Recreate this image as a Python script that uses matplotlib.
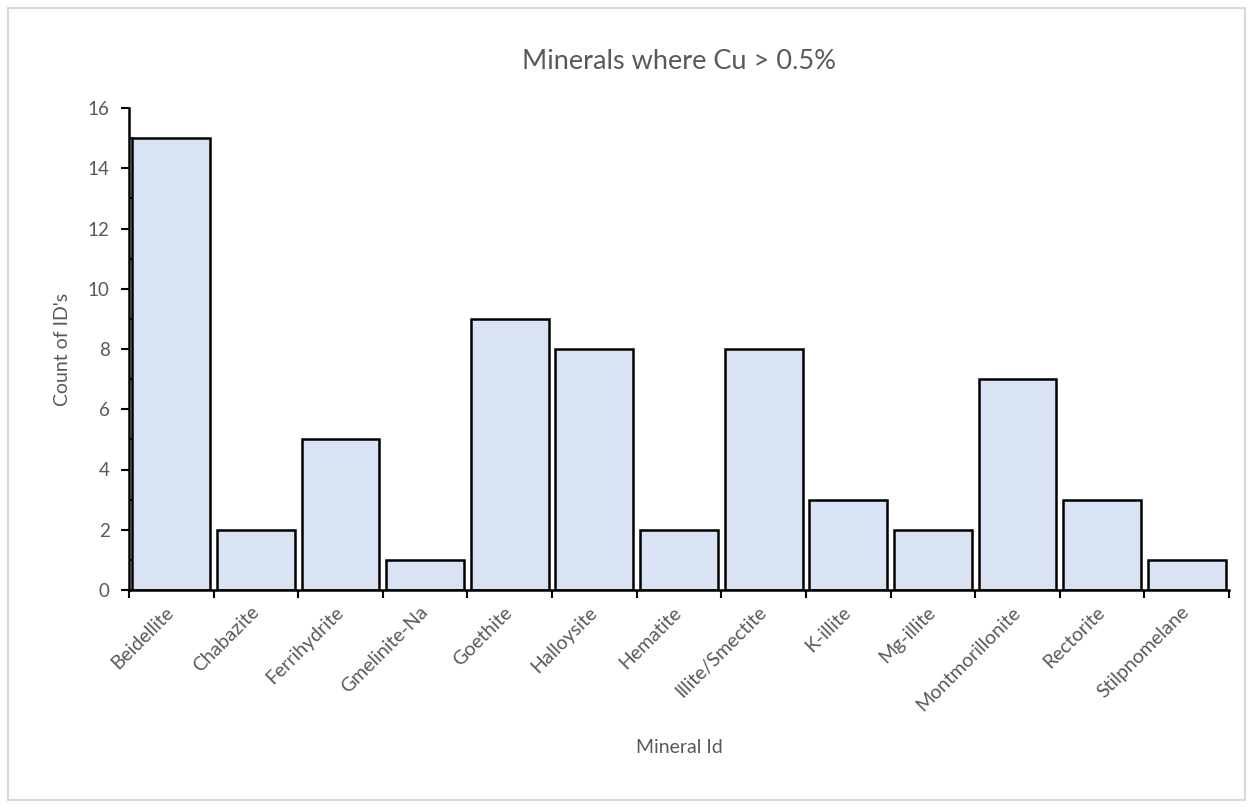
import matplotlib
matplotlib.use('Agg')
import matplotlib.pyplot as plt
from matplotlib.patches import Rectangle
from matplotlib.ticker import MultipleLocator

minerals = ['Beidellite', 'Chabazite', 'Ferrihydrite', 'Gmelinite-Na', 'Goethite',
            'Halloysite', 'Hematite', 'Illite/Smectite', 'K-illite', 'Mg-illite',
            'Montmorillonite', 'Rectorite', 'Stilpnomelane']
counts = [15, 2, 5, 1, 9, 8, 2, 8, 3, 2, 7, 3, 1]

plt.rcParams['font.family'] = ['Lato', 'DejaVu Sans']
grey = '#595959'

fig = plt.figure(figsize=(12.53, 8.08), dpi=100)
fig.patches.append(Rectangle((8 / 1253, 8 / 808), 1 - 16 / 1253, 1 - 16 / 808,
                             transform=fig.transFigure, fill=False,
                             edgecolor='#d9d9d9', linewidth=1.5))

ax = fig.add_axes([129 / 1253, 1 - 590 / 808, 1100 / 1253, 482 / 808])
x = list(range(len(minerals)))
ax.bar(x, counts, width=0.92, color='#dae3f3', edgecolor='black', linewidth=1.8)

ax.set_xlim(-0.5, len(minerals) - 0.5)
ax.set_ylim(0, 16)
ax.yaxis.set_major_locator(MultipleLocator(2))
ax.yaxis.set_minor_locator(MultipleLocator(1))

# ticks at category boundaries
ax.set_xticks([i - 0.5 for i in range(len(minerals) + 1)])
ax.set_xticklabels([])
ax.tick_params(axis='x', which='major', direction='out', length=6, width=1.5)
ax.set_xticks(x, minor=True)
ax.set_xticklabels(minerals, minor=True, rotation=45, ha='right', va='center',
                   rotation_mode='anchor', fontsize=14, color=grey)
ax.tick_params(axis='x', which='minor', length=0, pad=14)

ax.tick_params(axis='y', which='major', direction='out', length=6, width=1.5,
               labelsize=13.5, labelcolor=grey, pad=8)
ax.tick_params(axis='y', which='minor', direction='in', length=3, width=1.5)

for s in ['top', 'right']:
    ax.spines[s].set_visible(False)
for s in ['left', 'bottom']:
    ax.spines[s].set_linewidth(1.8)

ax.set_title('Minerals where Cu > 0.5%', fontsize=19.5, color=grey, pad=28)
ax.set_ylabel("Count of ID's", fontsize=14, color=grey, labelpad=12)
ax.set_xlabel('Mineral Id', fontsize=14, color=grey, labelpad=18)

fig.savefig('out.png', dpi=100)
